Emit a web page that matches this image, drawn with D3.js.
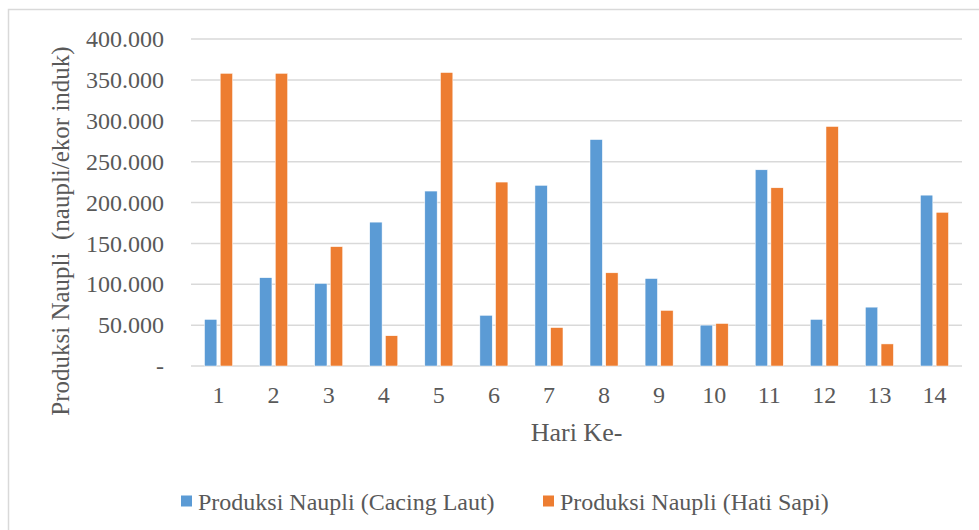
<!DOCTYPE html>
<html>
<head>
<meta charset="utf-8">
<script src="https://cdn.jsdelivr.net/npm/d3@7"></script>
<style>
  body { margin: 0; background: #fff; }
  text { font-family: "Liberation Serif", "Times New Roman", serif; fill: #595959; }
</style>
</head>
<body>
<div class="chart"></div>
<script>
// data
const days = ['1','2','3','4','5','6','7','8','9','10','11','12','13','14']
const cacingLaut = [57000, 108000, 101000, 176000, 214000, 62000, 221000, 277000, 107000, 50000, 240000, 57000, 72000, 209000]
const hatiSapi = [358000, 358000, 146000, 37000, 359000, 225000, 47000, 114000, 68000, 52000, 218000, 293000, 27000, 188000]
const seriesNames = ['Produksi Naupli (Cacing Laut)', 'Produksi Naupli (Hati Sapi)']
const yTicks = [0, 50000, 100000, 150000, 200000, 250000, 300000, 350000, 400000]
const colors = ['#5B9BD5', '#ED7D31']

const width = 979, height = 530
const plot = {left: 191, right: 962, top: 39, bottom: 366}

const svg = d3.select('.chart').append('svg')
    .attr('width', width)
    .attr('height', height)

// chart area border (runs off the right and bottom edge)
svg.append('rect')
    .attr('x', 8.5).attr('y', 9.5)
    .attr('width', 1000).attr('height', 600)
    .attr('fill', '#fff')
    .attr('stroke', '#D9D9D9')
    .attr('stroke-width', 1.5)

const y = d3.scaleLinear().domain([0, 400000]).range([plot.bottom, plot.top])

const x = d3.scaleBand().domain(days)
    .range([plot.left, plot.right])
    .paddingInner(0.491)
    .paddingOuter(0.2455)

const xSub = d3.scaleBand().domain([0, 1])
    .range([0, x.bandwidth()])
    .paddingInner(0.2126)

const loc = d3.formatLocale({decimal: ',', thousands: '.', grouping: [3], currency: ['', '']})
const fmt = loc.format(',.0f')

// gridlines
svg.append('g').selectAll('line')
    .data(yTicks)
    .join('line')
    .attr('x1', plot.left).attr('x2', plot.right)
    .attr('y1', d => y(d)).attr('y2', d => y(d))
    .attr('stroke', '#D9D9D9')
    .attr('stroke-width', 1.5)

// y tick labels
svg.append('g').selectAll('text')
    .data(yTicks)
    .join('text')
    .attr('x', 164)
    .attr('y', d => y(d))
    .attr('dy', '0.34em')
    .attr('text-anchor', 'end')
    .style('font-size', '24px')
    .text(d => d === 0 ? '-' : fmt(d))

// bars
const series = [cacingLaut, hatiSapi]
series.forEach((vals, s) => {
    svg.append('g').selectAll('rect')
        .data(vals)
        .join('rect')
        .attr('x', (d, i) => x(days[i]) + xSub(s))
        .attr('width', xSub.bandwidth())
        .attr('y', d => y(d))
        .attr('height', d => y(0) - y(d))
        .attr('fill', colors[s])
        .attr('stroke', '#fff')
        .attr('stroke-width', 0.5)
})

// x labels
svg.append('g').selectAll('text')
    .data(days)
    .join('text')
    .attr('x', d => x(d) + x.bandwidth() / 2)
    .attr('y', 403)
    .attr('text-anchor', 'middle')
    .style('font-size', '24px')
    .text(d => d)

// axis titles
svg.append('text')
    .attr('x', (plot.left + plot.right) / 2)
    .attr('y', 441)
    .attr('text-anchor', 'middle')
    .style('font-size', '26px')
    .text('Hari Ke-')

svg.append('text')
    .attr('transform', 'translate(69,231) rotate(-90)')
    .attr('text-anchor', 'middle')
    .style('font-size', '25px')
    .style('white-space', 'pre')
    .attr('xml:space', 'preserve')
    .text('Produksi Naupli  (naupli/ekor induk)')

// legend
const legendX = [181, 543]
seriesNames.forEach((name, s) => {
    svg.append('rect')
        .attr('x', legendX[s]).attr('y', 495.5)
        .attr('width', 11).attr('height', 11)
        .attr('fill', colors[s])
    svg.append('text')
        .attr('x', legendX[s] + 17)
        .attr('y', 509.5)
        .style('font-size', '24px')
        .text(name)
})
</script>
</body>
</html>
